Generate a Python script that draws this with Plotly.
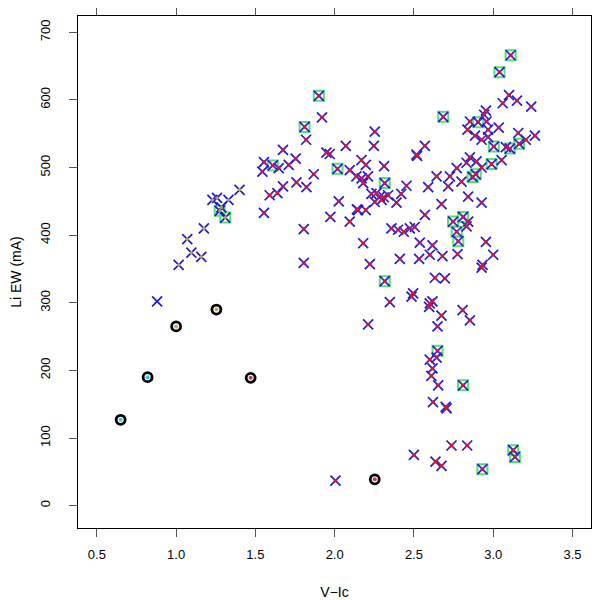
import plotly.graph_objs as go

# main stars: blue x with red centre
vi_main = [1.90, 1.92, 1.81, 1.82, 1.674, 1.754, 1.554, 1.544, 1.61, 1.647, 1.71, 1.948, 1.969, 2.07,
           2.018, 2.095, 2.137, 1.868, 1.759, 1.822, 1.674, 1.639, 1.59, 2.026, 1.973, 2.095, 2.14,
           1.554, 1.805, 1.805, 2.253, 2.247, 2.169, 2.196, 2.312, 2.17, 2.21, 2.18, 2.316, 2.453,
           2.42, 2.39, 2.232, 2.264, 2.285, 2.31, 2.337, 2.253, 2.296, 2.148, 2.196, 2.358, 2.40,
           2.436, 2.474, 2.505, 2.18, 2.516,
           3.11, 3.04, 3.10, 3.06, 3.15, 3.24, 2.685, 2.954, 2.943, 2.853, 2.905, 2.958, 2.838,
           2.968, 3.035, 2.885, 2.927, 2.968, 3.004, 3.105, 3.164, 3.158, 3.206, 3.263, 3.08, 3.053,
           2.99, 2.927, 2.895, 2.853, 2.832, 2.77, 2.89, 2.87, 2.727, 2.643, 2.80, 2.716, 2.59,
           2.569, 2.52, 2.842, 2.927, 2.674, 2.569, 2.747, 2.81, 2.842, 2.832, 2.77, 2.78, 2.954,
           2.537, 2.617,
           2.222, 2.411, 2.533, 2.60, 2.68, 2.775, 3.0, 2.933, 2.927, 2.632, 2.695, 2.316,
           2.348, 2.485, 2.495, 2.60, 2.617, 2.596, 2.674, 2.807, 2.853, 2.649, 2.211, 2.649,
           2.643, 2.60, 2.617, 2.61, 2.653, 2.81, 2.62, 2.706, 2.70, 2.737, 2.836, 2.50, 2.636,
           2.674, 2.932, 2.005, 3.126, 3.137]
ew_main = [606, 574, 560, 541, 526, 513, 508, 494, 503, 499, 504, 522, 520, 532,
           498, 496, 487, 490, 478, 471, 472, 462, 459, 450, 427, 420, 438,
           433, 409, 359, 553, 532, 511, 504, 502, 484, 487, 477, 477, 473,
           461, 448, 461, 462, 457, 456, 459, 449, 452, 437, 437, 410, 408,
           405, 410, 412, 388, 519,
           666, 641, 607, 595, 599, 590, 575, 584, 578, 568, 567, 568, 556,
           556, 559, 547, 541, 545, 531, 528, 535, 551, 541, 547, 530, 511,
           505, 500, 509, 515, 507, 499, 490, 486, 487, 487, 479, 472, 471,
           532, 517, 457, 448, 446, 430, 420, 427, 420, 413, 405, 391, 390,
           389, 385,
           357, 365, 365, 371, 369, 372, 371, 356, 352, 337, 336, 332,
           301, 309, 314, 299, 302, 294, 281, 289, 274, 265, 268, 229,
           219, 216, 203, 192, 178, 178, 153, 144, 146, 89, 89, 75, 65,
           59, 54, 37, 82, 72]

# stars also flagged with a green square
vi_green = [1.90, 1.81, 1.61, 2.018, 2.316, 3.11, 3.04, 2.685, 2.905, 3.004, 3.105, 3.164, 2.99,
            2.89, 2.87, 2.747, 2.81, 2.77, 2.78, 2.316, 2.649, 2.81, 2.932, 3.126, 3.137,
            1.275, 1.31]
ew_green = [606, 560, 503, 498, 477, 666, 641, 575, 567, 531, 528, 535, 505,
            490, 486, 420, 427, 405, 391, 332, 229, 178, 54, 82, 72,
            436, 426]

# blue x with tan centre
vi_tan = [1.40, 1.229, 1.258, 1.33, 1.285, 1.275, 1.31, 1.175, 1.07, 1.096, 1.159, 1.016]
ew_tan = [467, 452, 455, 452, 441, 436, 426, 410, 394, 374, 368, 356]

# stars in black circles
vi_circ = [0.65, 0.82, 1.0, 1.254, 1.47, 2.253]
ew_circ = [127, 190, 265, 290, 189, 39]
col_circ = ["#33c8ee", "#33c8ee", "#c8a860", "#c8a860", "#d0305a", "#d0305a"]

# lone blue x
vi_blue = [0.88]
ew_blue = [302]

fig = go.Figure()
fig.add_trace(go.Scatter(x=vi_green, y=ew_green, mode="markers",
                         marker=dict(symbol="square-open", size=10, color="#55e070", line=dict(width=2))))
fig.add_trace(go.Scatter(x=vi_main + vi_tan + vi_blue, y=ew_main + ew_tan + ew_blue, mode="markers",
                         marker=dict(symbol="x-thin-open", size=10, color="#1a1ad8", line=dict(width=1.7, color="#1a1ad8"))))
fig.add_trace(go.Scatter(x=vi_main, y=ew_main, mode="markers",
                         marker=dict(symbol="x-thin-open", size=6, color="#7a2898", line=dict(width=1.2, color="#7a2898"))))
fig.add_trace(go.Scatter(x=vi_main, y=ew_main, mode="markers",
                         marker=dict(symbol="circle", size=3.5, color="#d8123a", line=dict(width=0))))
fig.add_trace(go.Scatter(x=vi_tan, y=ew_tan, mode="markers",
                         marker=dict(symbol="circle", size=3.5, color="#b89a5a", line=dict(width=0))))
fig.add_trace(go.Scatter(x=vi_circ, y=ew_circ, mode="markers",
                         marker=dict(symbol="circle-open", size=9, color="black", line=dict(width=2.8, color="black"))))
fig.add_trace(go.Scatter(x=vi_circ, y=ew_circ, mode="markers",
                         marker=dict(symbol="circle", size=4, color=col_circ, line=dict(width=0))))

ax = dict(showgrid=False, zeroline=False, showline=True, linecolor="black", linewidth=1,
          mirror="ticks", ticks="outside", ticklen=8, tickcolor="#555", tickwidth=1, automargin=False,
          tickfont=dict(family="Liberation Sans, Arial", size=13, color="black"))
# page body adds an 8px offset, so the figure is 592 px and margins are trimmed by 8
fig.update_layout(
    width=592, height=592, showlegend=False,
    plot_bgcolor="white", paper_bgcolor="white",
    margin=dict(l=70, r=9, t=8, b=72),
    font=dict(family="Liberation Sans, Arial", size=13, color="black"),
    xaxis=dict(ax, range=[0.381, 3.617], tickvals=[0.5, 1.0, 1.5, 2.0, 2.5, 3.0, 3.5],
               ticktext=["0.5", "1.0", "1.5", "2.0", "2.5", "3.0", "3.5"], ticklabelstandoff=6,
               title=dict(text="V\u2212Ic", standoff=34, font=dict(size=14))),
    yaxis=dict(ax, range=[-33, 724], tickvals=[0, 100, 200, 300, 400, 500, 600, 700], tickangle=-90,
               ticklabelstandoff=14,
               title=dict(text="Li EW (mA)", standoff=18, font=dict(size=14))),
)
fig.write_html("out.html")
